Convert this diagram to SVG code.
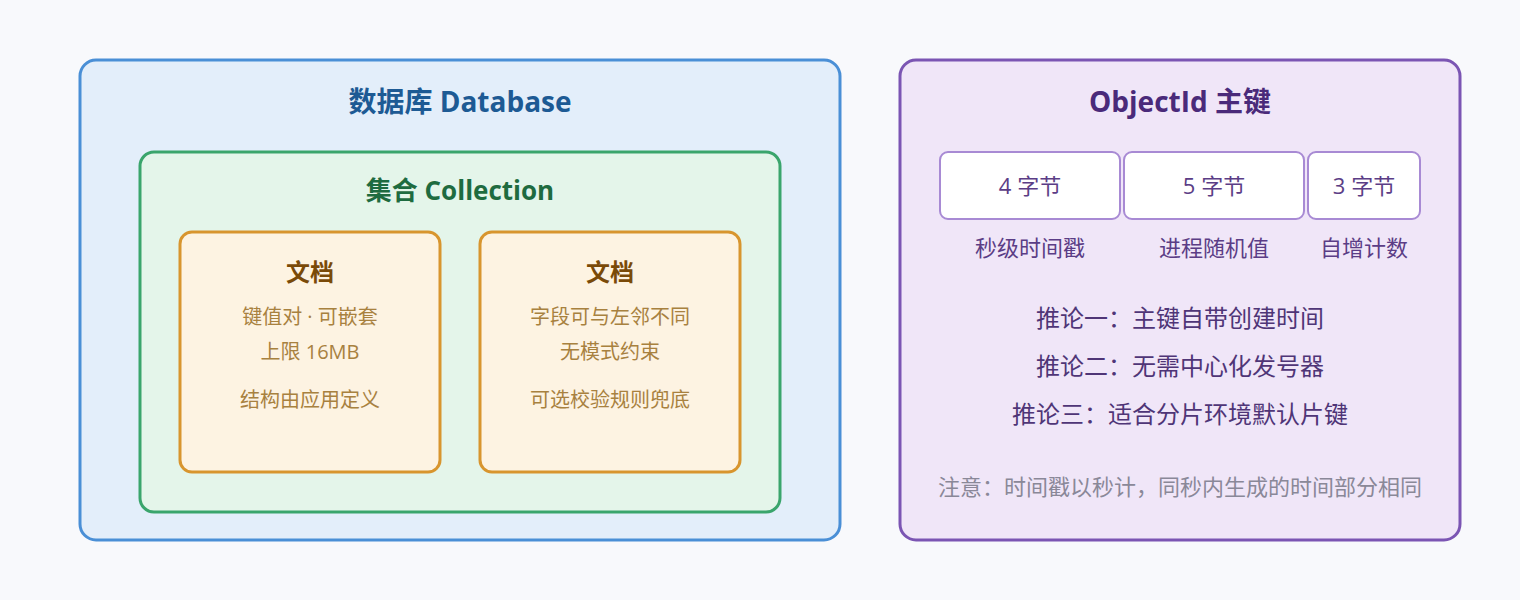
<svg xmlns="http://www.w3.org/2000/svg" width="1520" height="600" viewBox="0 0 1520 600">
<style>
text{font-family:"Open Sans","Noto Sans CJK SC",sans-serif;text-anchor:middle}
.t{font-weight:700}
.db{fill:#e3eefa;stroke:#4a8fd6;stroke-width:3}
.col{fill:#e4f5ea;stroke:#3aa56c;stroke-width:3}
.doc{fill:#fdf3e2;stroke:#d8952e;stroke-width:3}
.oid{fill:#f0e6f8;stroke:#7b55b3;stroke-width:3}
.byte{fill:#ffffff;stroke:#a88ad4;stroke-width:2}
.dt{font-size:24px;font-weight:700;fill:#7a4a08}
.dl{font-size:20px;fill:#a8813f}
.bt{font-size:22px;fill:#5b3d86}
.inf{font-size:24px;fill:#4f3577}
</style>
<rect width="1520" height="600" fill="#f8f9fc"/>
<g id="database">
<rect class="db" x="80" y="60" width="760" height="480" rx="16"/>
<text class="t" x="460" y="112" font-size="28" fill="#1d5a94">数据库 Database</text>
</g>
<g id="collection">
<rect class="col" x="140" y="152" width="640" height="360" rx="14"/>
<text class="t" x="460" y="200" font-size="26" fill="#1e6b40">集合 Collection</text>
</g>
<g id="doc1">
<rect class="doc" x="180" y="232" width="260" height="240" rx="12"/>
<text class="dt" x="310" y="281">文档</text>
<text class="dl" x="310" y="324">键值对 · 可嵌套</text>
<text class="dl" x="310" y="359">上限 16MB</text>
<text class="dl" x="310" y="407">结构由应用定义</text>
</g>
<g id="doc2">
<rect class="doc" x="480" y="232" width="260" height="240" rx="12"/>
<text class="dt" x="610" y="281">文档</text>
<text class="dl" x="610" y="324">字段可与左邻不同</text>
<text class="dl" x="610" y="359">无模式约束</text>
<text class="dl" x="610" y="407">可选校验规则兜底</text>
</g>
<g id="objectid">
<rect class="oid" x="900" y="60" width="560" height="480" rx="16"/>
<text class="t" x="1180" y="112" font-size="28" fill="#4a2a7a">ObjectId 主键</text>
</g>
<g id="byte4">
<rect class="byte" x="940" y="152" width="180" height="67" rx="8"/>
<text class="bt" x="1030" y="194">4 字节</text>
<text class="bt" x="1030" y="256">秒级时间戳</text>
</g>
<g id="byte5">
<rect class="byte" x="1124" y="152" width="180" height="67" rx="8"/>
<text class="bt" x="1214" y="194">5 字节</text>
<text class="bt" x="1214" y="256">进程随机值</text>
</g>
<g id="byte3">
<rect class="byte" x="1308" y="152" width="112" height="67" rx="8"/>
<text class="bt" x="1364" y="194">3 字节</text>
<text class="bt" x="1364" y="256">自增计数</text>
</g>
<g id="inferences">
<text class="inf" x="1180" y="327">推论一：主键自带创建时间</text>
<text class="inf" x="1180" y="375">推论二：无需中心化发号器</text>
<text class="inf" x="1180" y="423">推论三：适合分片环境默认片键</text>
<text x="1180" y="495" font-size="22" fill="#8a8898">注意：时间戳以秒计，同秒内生成的时间部分相同</text>
</g>
<g id="connectors"/>
</svg>
